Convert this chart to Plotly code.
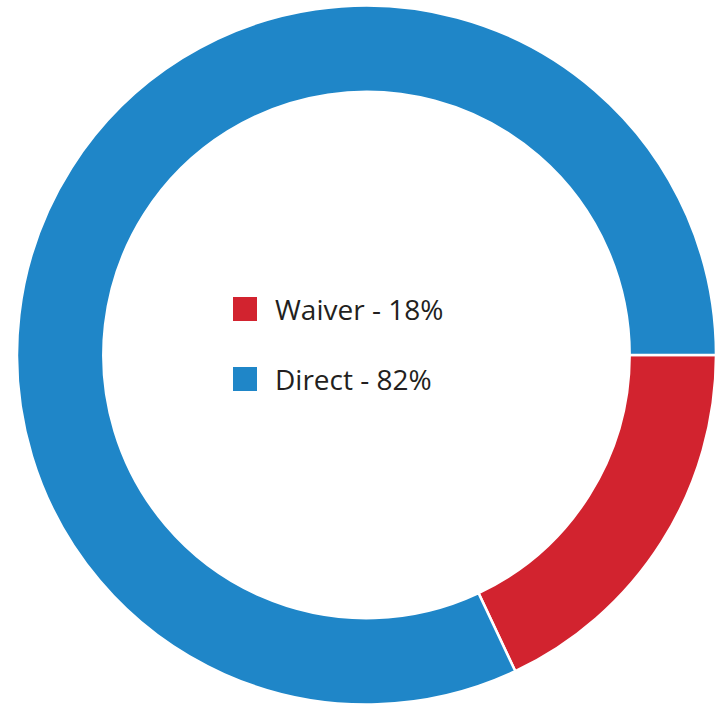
import plotly.graph_objects as go

labels = ["Waiver", "Direct"]
values = [18, 82]
colors = ["#d2232f", "#1f86c8"]
legend_text = [f"{l} - {v}%" for l, v in zip(labels, values)]

W, H = 723, 705

fig = go.Figure()
fig.add_trace(go.Pie(
    labels=labels,
    values=values,
    hole=0.753,
    sort=False,
    direction="clockwise",
    rotation=90,
    marker=dict(colors=colors, line=dict(color="white", width=2.5)),
    textinfo="none",
    hoverinfo="label+percent",
    showlegend=False,
    domain=dict(x=[17 / W, 716 / W], y=[0, 1 - 5 / H]),
))

# center legend
x0_px, sq = 233, 24
y_first, step = 309, 70
shapes, annotations = [], []
for i, (txt, c) in enumerate(zip(legend_text, colors)):
    cy = y_first + i * step
    shapes.append(dict(
        type="rect", xref="paper", yref="paper",
        x0=x0_px / W, x1=(x0_px + sq) / W,
        y0=1 - (cy + sq / 2) / H, y1=1 - (cy - sq / 2) / H,
        fillcolor=c, line=dict(width=0),
    ))
    annotations.append(dict(
        text=txt, xref="paper", yref="paper",
        x=273 / W, y=1 - cy / H, xanchor="left", yanchor="middle",
        showarrow=False, font=dict(family="Open Sans", size=28, color="#231f20"),
    ))

fig.update_layout(
    width=W, height=H,
    margin=dict(l=0, r=0, t=0, b=0),
    paper_bgcolor="white", plot_bgcolor="white",
    shapes=shapes, annotations=annotations,
)
fig.write_html(
    "out.html",
    config={"displayModeBar": False},
    post_script="document.body.style.margin='0';document.body.style.overflow='hidden';",
)
